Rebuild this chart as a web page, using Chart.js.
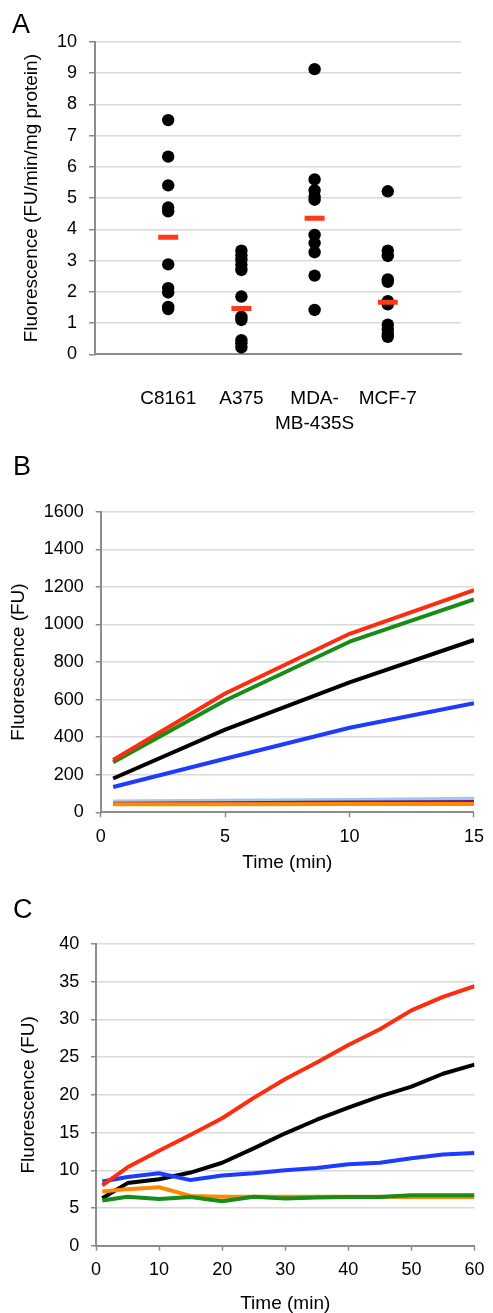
<!DOCTYPE html>
<html>
<head>
<meta charset="utf-8">
<script src="https://cdn.jsdelivr.net/npm/chart.js@4"></script>
<style>
  body { margin: 0; background: #fff; }
  .wrap { position: relative; width: 493px; height: 1313px; overflow: hidden; }
  canvas { position: absolute; left: 0; }
  .panel { position: absolute; font: 27px "Liberation Sans", Arial, sans-serif; line-height: 27px; color: #000; }
</style>
</head>
<body>
<div class="wrap">
  <canvas id="chartA" width="493" height="440" style="top:0"></canvas>
  <canvas id="chartB" width="493" height="440" style="top:440px"></canvas>
  <canvas id="chartC" width="493" height="443" style="top:870px"></canvas>
  <div class="panel" style="left:12px;top:11px">A</div>
  <div class="panel" style="left:13px;top:453px">B</div>
  <div class="panel" style="left:13px;top:896px">C</div>
</div>
<script>
// panel A data (FU/min/mg protein)
const cellLines = ["C8161", "A375", ["MDA-", "MB-435S"], "MCF-7"];
const c8161 = [7.5, 6.33, 5.41, 4.7, 4.58, 2.88, 2.12, 1.98, 1.52, 1.45];
const a375 = [3.32, 3.17, 3.02, 2.87, 2.7, 1.85, 1.2, 1.1, 0.45, 0.35, 0.22];
const mda = [9.13, 5.6, 5.25, 5.05, 4.95, 3.82, 3.56, 3.27, 2.52, 1.42];
const mcf7 = [5.22, 3.32, 3.15, 2.4, 2.32, 1.7, 1.6, 0.95, 0.8, 0.66, 0.56];
const means = [3.75, 1.47, 4.36, 1.67];

// panel B data
const timesB = [0.5, 5, 10, 15];
const redB = [278, 632, 950, 1183];
const greenB = [266, 595, 908, 1133];
const blackB = [180, 440, 692, 917];
const blueB = [135, 285, 450, 580];
const lightBlueB = [57, 62, 66, 72];
const purpleB = [45, 48, 52, 55];
const orangeB = [43, 43, 44, 44];

// panel C data
const timesC = [1, 5, 10, 15, 20, 25, 30, 35, 40, 45, 50, 55, 60];
const redC = [8.0, 10.4, 12.6, 14.7, 16.9, 19.6, 22.1, 24.3, 26.6, 28.7, 31.2, 33.0, 34.4];
const blackC = [6.3, 8.3, 8.8, 9.7, 11.0, 12.9, 14.9, 16.7, 18.3, 19.8, 21.1, 22.8, 24.0];
const blueC = [8.5, 9.1, 9.6, 8.7, 9.3, 9.6, 10.0, 10.3, 10.8, 11.0, 11.6, 12.1, 12.3];
const orangeC = [7.2, 7.5, 7.75, 6.6, 6.5, 6.5, 6.5, 6.5, 6.5, 6.5, 6.45, 6.45, 6.45];
const greenC = [6.0, 6.5, 6.2, 6.45, 5.9, 6.5, 6.25, 6.4, 6.45, 6.45, 6.7, 6.7, 6.7];

Chart.defaults.font.family = "'Liberation Sans', Arial, sans-serif";
Chart.defaults.color = "#000";
Chart.defaults.animation = false;
Chart.defaults.plugins.legend.display = false;
Chart.defaults.plugins.tooltip.enabled = false;

const axisGray = "#8c8c8c";
const gridGray = "#d9d9d9";

const toPoints = (xs, ys) => xs.map((x, i) => ({ x: x, y: ys[i] }));
const plainNum = (v) => String(v);

function lineSet(xs, ys, color) {
  return {
    data: toPoints(xs, ys),
    borderColor: color,
    borderWidth: 4,
    pointRadius: 0,
    tension: 0,
    borderJoinStyle: "round",
  };
}

// Panel A - scatter by cell line
const groupsA = [c8161, a375, mda, mcf7];
const dotsA = [];
groupsA.forEach((vals, i) => vals.forEach((v) => dotsA.push({ x: i + 1, y: v })));

new Chart(document.getElementById("chartA"), {
  type: "scatter",
  data: {
    datasets: [
      {
        data: means.map((m, i) => ({ x: i + 1, y: m })),
        pointStyle: "line",
        pointRadius: 10,
        borderWidth: 5,
        borderColor: "#ff3a1c",
      },
      {
        data: dotsA,
        pointRadius: 6.2,
        borderWidth: 0,
        backgroundColor: "#000",
      },
    ],
  },
  options: {
    responsive: false,
    layout: { padding: { top: 42, right: 3, left: 0, bottom: 0 } },
    scales: {
      x: {
        type: "linear",
        min: 0,
        max: 5,
        afterFit: (s) => { s.height = 85.7; },
        ticks: {
          stepSize: 1,
          autoSkip: false,
          maxRotation: 0,
          padding: 32,
          font: { size: 19, lineHeight: 1.3 },
          callback: (v) => cellLines[v - 1] || "",
        },
        grid: { display: false, drawTicks: false },
        border: { color: axisGray, width: 2 },
      },
      y: {
        min: 0,
        max: 10,
        afterFit: (s) => { s.width = 95; },
        ticks: { stepSize: 1, padding: 12, font: { size: 18 }, callback: plainNum },
        grid: {
          color: (ctx) => (ctx.tick && ctx.tick.value === 0 ? "rgba(0,0,0,0)" : gridGray),
          lineWidth: 1.5,
          tickLength: 6,
          tickColor: axisGray,
          tickWidth: 1.5,
        },
        border: { color: axisGray, width: 2 },
        title: {
          display: true,
          text: "Fluorescence (FU/min/mg protein)",
          font: { size: 19 },
          padding: { top: 20.6, bottom: 0 },
        },
      },
    },
  },
});

// Panel B - 15 min time course
new Chart(document.getElementById("chartB"), {
  type: "line",
  data: {
    datasets: [
      lineSet(timesB, redB, "#ff2d10"),
      lineSet(timesB, greenB, "#178c17"),
      lineSet(timesB, blackB, "#000"),
      lineSet(timesB, blueB, "#1e3cff"),
      lineSet(timesB, orangeB, "#ff8a00"),
      lineSet(timesB, purpleB, "#6b1f7a"),
      lineSet(timesB, lightBlueB, "#a3c6ec"),
    ],
  },
  options: {
    responsive: false,
    layout: { padding: { top: 71.7, right: 15.3, left: 0, bottom: 0 } },
    scales: {
      x: {
        type: "linear",
        min: 0,
        max: 15,
        afterFit: (s) => { s.height = 67.7; },
        ticks: { stepSize: 5, padding: 9, font: { size: 18 }, maxRotation: 0, callback: plainNum },
        grid: { drawOnChartArea: false, tickLength: 5, tickColor: axisGray, tickWidth: 1.5 },
        border: { color: axisGray, width: 2 },
        title: { display: true, text: "Time (min)", font: { size: 19 }, padding: { top: 0, bottom: 5.6 } },
      },
      y: {
        min: 0,
        max: 1600,
        afterFit: (s) => { s.width = 100.7; },
        ticks: { stepSize: 200, padding: 12, font: { size: 18 }, callback: plainNum },
        grid: {
          color: (ctx) => (ctx.tick && ctx.tick.value === 0 ? "rgba(0,0,0,0)" : gridGray),
          lineWidth: 1.5,
          tickLength: 5,
          tickColor: axisGray,
          tickWidth: 1.5,
        },
        border: { color: axisGray, width: 2 },
        title: { display: true, text: "Fluorescence (FU)", font: { size: 19 }, padding: { top: 7.6, bottom: 0 } },
      },
    },
  },
});

// Panel C - 60 min time course
new Chart(document.getElementById("chartC"), {
  type: "line",
  data: {
    datasets: [
      lineSet(timesC, greenC, "#178c17"),
      lineSet(timesC, orangeC, "#ff8a00"),
      lineSet(timesC, redC, "#ff2d10"),
      lineSet(timesC, blueC, "#1e3cff"),
      lineSet(timesC, blackC, "#000"),
    ],
  },
  options: {
    responsive: false,
    layout: { padding: { top: 74, right: 18, left: 0, bottom: 0 } },
    scales: {
      x: {
        type: "linear",
        min: 0,
        max: 60,
        afterFit: (s) => { s.height = 67.3; },
        ticks: { stepSize: 10, padding: 8.5, font: { size: 18 }, maxRotation: 0, callback: plainNum },
        grid: { drawOnChartArea: false, tickLength: 5, tickColor: axisGray, tickWidth: 1.5 },
        border: { color: axisGray, width: 2 },
        title: { display: true, text: "Time (min)", font: { size: 19, lineHeight: 1 }, padding: { top: 0, bottom: 0 } },
      },
      y: {
        min: 0,
        max: 40,
        afterFit: (s) => { s.width = 96; },
        ticks: { stepSize: 5, padding: 11.7, font: { size: 18 }, callback: plainNum },
        grid: {
          color: (ctx) => (ctx.tick && ctx.tick.value === 0 ? "rgba(0,0,0,0)" : gridGray),
          lineWidth: 1.5,
          tickLength: 5,
          tickColor: axisGray,
          tickWidth: 1.5,
        },
        border: { color: axisGray, width: 2 },
        title: { display: true, text: "Fluorescence (FU)", font: { size: 19 }, padding: { top: 17.6, bottom: 0 } },
      },
    },
  },
});
</script>
</body>
</html>
